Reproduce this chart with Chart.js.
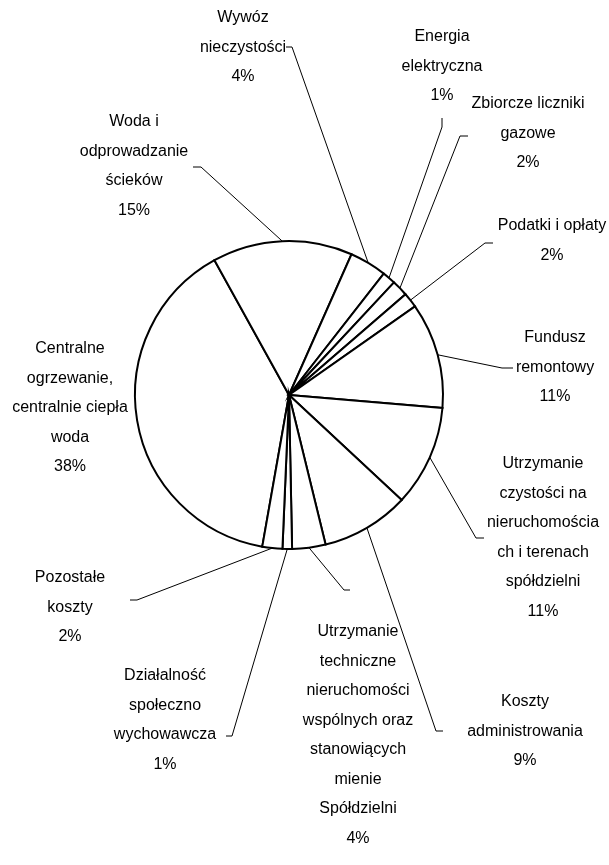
<!DOCTYPE html>
<html><head><meta charset="utf-8">
<script src="https://cdn.jsdelivr.net/npm/chart.js@4/dist/chart.umd.min.js"></script>
<style>html,body{margin:0;padding:0;background:#fff;}canvas{display:block}</style>
</head><body>
<canvas id="c" width="609" height="865"></canvas>
<script>
// ---- data ----
const categories = [
  'Centralne ogrzewanie, centralnie ciepła woda',
  'Woda i odprowadzanie ścieków',
  'Wywóz nieczystości',
  'Energia elektryczna',
  'Zbiorcze liczniki gazowe',
  'Podatki i opłaty',
  'Fundusz remontowy',
  'Utrzymanie czystości na nieruchomościach i terenach spółdzielni',
  'Koszty administrowania',
  'Utrzymanie techniczne nieruchomości wspólnych oraz stanowiących mienie Spółdzielni',
  'Działalność społeczno wychowawcza',
  'Pozostałe koszty'
];
const shares = [39.2, 14.7, 3.9, 1.4, 1.7, 1.6, 11.1, 10.6, 9.25, 3.5, 1.0, 2.1];
const percentLabels = ['38%', '15%', '4%', '1%', '2%', '2%', '11%', '11%', '9%', '4%', '1%', '2%'];
const labelLines = [
  ['Centralne', 'ogrzewanie,', 'centralnie ciepła', 'woda'],
  ['Woda i', 'odprowadzanie', 'ścieków'],
  ['Wywóz', 'nieczystości'],
  ['Energia', 'elektryczna'],
  ['Zbiorcze liczniki', 'gazowe'],
  ['Podatki i opłaty'],
  ['Fundusz', 'remontowy'],
  ['Utrzymanie', 'czystości na', 'nieruchomościa', 'ch i terenach', 'spółdzielni'],
  ['Koszty', 'administrowania'],
  ['Utrzymanie', 'techniczne', 'nieruchomości', 'wspólnych oraz', 'stanowiących', 'mienie', 'Spółdzielni'],
  ['Działalność', 'społeczno', 'wychowawcza'],
  ['Pozostałe', 'koszty']
];

// ---- layout (positions only) ----
const labelLayout = [
  {x: 70,  y: 349, elbow: null, tick: null},
  {x: 134, y: 122, elbow: [201, 167], tick: [193, 167]},
  {x: 243, y: 18,  elbow: [292, 47],  tick: [286, 47]},
  {x: 442, y: 37,  elbow: [442, 127], tick: [442, 118]},
  {x: 528, y: 104, elbow: [460, 136], tick: [468, 136]},
  {x: 552, y: 226, elbow: [485, 243], tick: [493, 243]},
  {x: 555, y: 338, elbow: [502, 368], tick: [513, 368]},
  {x: 543, y: 464, elbow: [476, 538], tick: [484, 538]},
  {x: 525, y: 702, elbow: [436, 731], tick: [443, 731]},
  {x: 358, y: 632, elbow: [344, 590], tick: [350, 590]},
  {x: 165, y: 676, elbow: [232, 736], tick: [226, 736]},
  {x: 70,  y: 578, elbow: [137, 600], tick: [130, 600]}
];
const LINE_H = 29.5;
const FONT = '16px "Liberation Sans", Arial, sans-serif';

const labelPlugin = {
  id: 'pieLabels',
  afterDatasetsDraw(chart) {
    const ctx = chart.ctx;
    const meta = chart.getDatasetMeta(0);
    ctx.save();
    ctx.font = FONT;
    ctx.fillStyle = '#000';
    ctx.textAlign = 'center';
    ctx.textBaseline = 'middle';
    meta.data.forEach((arc, i) => {
      const L = labelLayout[i];
      const lines = labelLines[i].concat([percentLabels[i]]);
      lines.forEach((t, k) => ctx.fillText(t, L.x, L.y + k * LINE_H));
      if (L.elbow) {
        const p = arc.getProps(['x', 'y', 'startAngle', 'endAngle', 'outerRadius'], true);
        const mid = (p.startAngle + p.endAngle) / 2;
        const sx = p.x + Math.cos(mid) * p.outerRadius;
        const sy = p.y + Math.sin(mid) * p.outerRadius;
        ctx.beginPath();
        ctx.lineWidth = 1;
        ctx.strokeStyle = '#000';
        ctx.moveTo(sx, sy);
        ctx.lineTo(L.elbow[0], L.elbow[1]);
        ctx.lineTo(L.tick[0], L.tick[1]);
        ctx.stroke();
      }
    });
    ctx.restore();
  }
};

new Chart(document.getElementById('c'), {
  type: 'pie',
  data: {
    labels: categories,
    datasets: [{
      data: shares,
      backgroundColor: '#ffffff',
      borderColor: '#000000',
      borderWidth: 2,
      borderJoinStyle: 'miter'
    }]
  },
  options: {
    responsive: false,
    animation: false,
    devicePixelRatio: 1,
    rotation: 190,
    layout: {padding: {left: 134, top: 240, right: 165, bottom: 315}},
    plugins: {legend: {display: false}, tooltip: {enabled: false}}
  },
  plugins: [labelPlugin]
});
</script>
</body></html>
